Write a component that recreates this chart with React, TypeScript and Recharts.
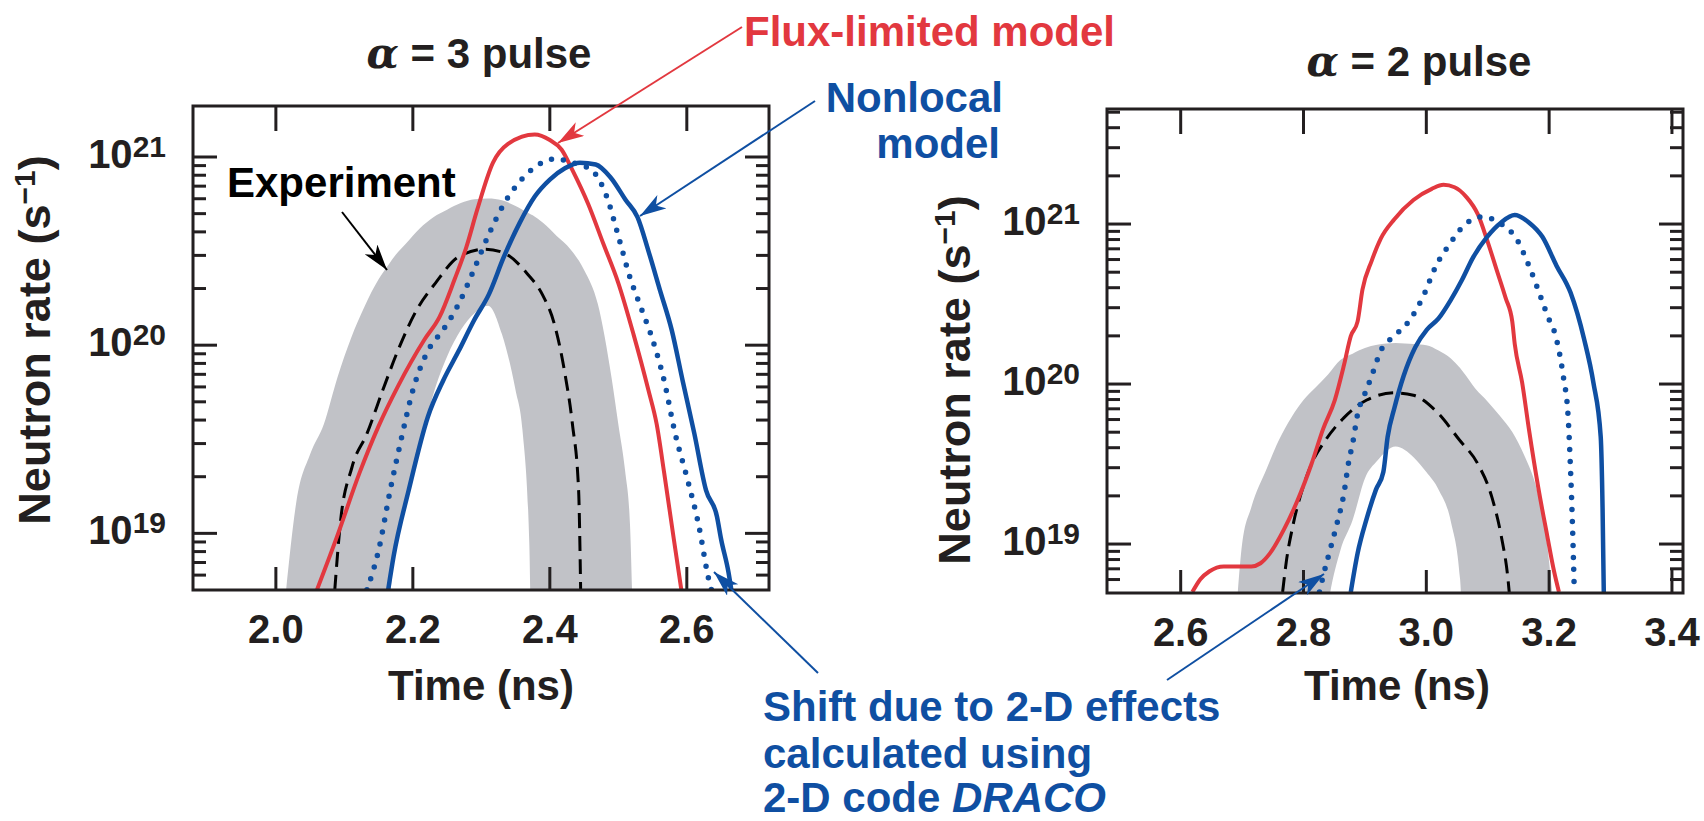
import { Area, ComposedChart, Line, XAxis, YAxis } from "recharts";

const FONT = '"Liberation Sans", Arial, Helvetica, sans-serif';
const INK = "#231f20";
const RED = "#e2383f";
const BLUE = "#0f4fa2";
const GREY = "#c1c2c7";

// values are log10 of the neutron rate (s^-1) against time (ns)

// alpha = 3 pulse
const experimentA3: [number, number][] = [
  [2.086, 18.7], [2.094, 19.05], [2.111, 19.35], [2.133, 19.53], [2.156, 19.76],
  [2.178, 19.97], [2.206, 20.19], [2.233, 20.33], [2.267, 20.47], [2.306, 20.51],
  [2.333, 20.49], [2.367, 20.38], [2.389, 20.27], [2.406, 20.12], [2.422, 19.85],
  [2.433, 19.58], [2.442, 19.23], [2.445, 18.7],
];
const fluxLimitedA3: [number, number][] = [
  [2.06, 18.7], [2.089, 18.98], [2.122, 19.32], [2.15, 19.57], [2.178, 19.78],
  [2.217, 20.03], [2.239, 20.15], [2.261, 20.35], [2.278, 20.52], [2.294, 20.72],
  [2.317, 20.97], [2.339, 21.07], [2.378, 21.12], [2.4, 21.09], [2.417, 21.04],
  [2.433, 20.93], [2.456, 20.75], [2.478, 20.54], [2.5, 20.33], [2.522, 20.06],
  [2.544, 19.76], [2.556, 19.58], [2.567, 19.32], [2.581, 18.97], [2.592, 18.7],
];
const shiftedA3: [number, number][] = [
  [2.133, 18.7], [2.15, 18.91], [2.167, 19.23], [2.183, 19.5], [2.2, 19.76],
  [2.222, 19.97], [2.244, 20.08], [2.267, 20.22], [2.289, 20.4], [2.311, 20.59],
  [2.333, 20.75], [2.361, 20.89], [2.389, 20.97], [2.408, 20.99], [2.433, 20.97],
  [2.461, 20.93], [2.483, 20.79], [2.5, 20.58], [2.517, 20.36], [2.533, 20.2],
  [2.55, 20.03], [2.567, 19.81], [2.583, 19.53], [2.6, 19.3], [2.617, 19.05],
  [2.633, 18.74], [2.636, 18.7],
];
const nonlocalA3: [number, number][] = [
  [2.164, 18.7], [2.172, 18.88], [2.194, 19.23], [2.222, 19.62], [2.244, 19.81],
  [2.267, 19.97], [2.289, 20.13], [2.311, 20.27], [2.333, 20.47], [2.356, 20.65],
  [2.378, 20.79], [2.4, 20.88], [2.422, 20.94], [2.444, 20.97], [2.467, 20.96],
  [2.489, 20.89], [2.511, 20.77], [2.528, 20.68], [2.544, 20.5], [2.561, 20.29],
  [2.578, 20.08], [2.594, 19.81], [2.611, 19.53], [2.628, 19.23], [2.644, 19.09],
  [2.65, 18.97], [2.661, 18.79], [2.665, 18.7],
];
// experimental uncertainty band: [time, lower edge, upper edge]
const bandA3: [number, number, number][] = [
  [2.015, 18.0, 18.7], [2.03, 18.0, 19.17], [2.05, 18.0, 19.42], [2.07, 18.0, 19.58],
  [2.09, 18.0, 19.83], [2.11, 18.0, 20.04], [2.13, 18.0, 20.21], [2.15, 18.0, 20.35],
  [2.165, 18.6, 20.43], [2.175, 18.95, 20.48], [2.19, 19.2, 20.54], [2.21, 19.45, 20.62],
  [2.23, 19.74, 20.68], [2.25, 19.94, 20.72], [2.27, 20.08, 20.755], [2.29, 20.17, 20.775],
  [2.31, 20.21, 20.78], [2.33, 20.06, 20.77], [2.35, 19.76, 20.74], [2.36, 19.55, 20.72],
  [2.37, 18.95, 20.7], [2.375, 18.0, 20.69], [2.39, 18.0, 20.65], [2.41, 18.0, 20.58],
  [2.43, 18.0, 20.51], [2.45, 18.0, 20.4], [2.47, 18.0, 20.22], [2.49, 18.0, 19.83],
  [2.5, 18.0, 19.58], [2.51, 18.0, 19.33], [2.517, 18.0, 19.05], [2.52, 18.0, 18.7],
];

// alpha = 2 pulse
const experimentA2: [number, number][] = [
  [2.766, 18.7], [2.772, 18.89], [2.783, 19.12], [2.798, 19.34], [2.813, 19.5],
  [2.836, 19.65], [2.866, 19.79], [2.903, 19.9], [2.948, 19.945], [2.979, 19.93],
  [3.016, 19.83], [3.054, 19.65], [3.084, 19.5], [3.107, 19.29], [3.122, 19.05],
  [3.133, 18.78], [3.135, 18.7],
];
const fluxLimitedA2: [number, number][] = [
  [2.619, 18.7], [2.632, 18.78], [2.647, 18.83], [2.67, 18.86], [2.715, 18.86],
  [2.73, 18.88], [2.745, 18.94], [2.768, 19.09], [2.79, 19.27], [2.813, 19.5],
  [2.832, 19.72], [2.851, 19.9], [2.866, 20.12], [2.877, 20.3], [2.888, 20.39],
  [2.896, 20.59], [2.911, 20.77], [2.926, 20.91], [2.948, 21.03], [2.979, 21.15],
  [3.009, 21.22], [3.028, 21.245], [3.046, 21.23], [3.065, 21.17], [3.084, 21.06],
  [3.099, 20.9], [3.114, 20.72], [3.129, 20.54], [3.14, 20.39], [3.144, 20.25],
  [3.156, 20.01], [3.167, 19.72], [3.182, 19.36], [3.197, 19.05], [3.208, 18.83],
  [3.216, 18.7],
];
const shiftedA2: [number, number][] = [
  [2.826, 18.7], [2.832, 18.8], [2.843, 18.96], [2.854, 19.12], [2.866, 19.32],
  [2.873, 19.5], [2.881, 19.65], [2.888, 19.81], [2.9, 19.94], [2.911, 20.05],
  [2.926, 20.21], [2.948, 20.3], [2.971, 20.39], [2.994, 20.54], [3.016, 20.74],
  [3.039, 20.88], [3.061, 20.99], [3.092, 21.045], [3.122, 21.0], [3.148, 20.9],
  [3.167, 20.74], [3.182, 20.59], [3.197, 20.43], [3.212, 20.28], [3.223, 20.05],
  [3.231, 19.79], [3.235, 19.45], [3.238, 19.12], [3.241, 18.7],
];
const nonlocalA2: [number, number][] = [
  [2.877, 18.7], [2.888, 18.94], [2.903, 19.16], [2.918, 19.34], [2.93, 19.45],
  [2.937, 19.67], [2.948, 19.85], [2.963, 20.05], [2.982, 20.23], [3.001, 20.34],
  [3.02, 20.41], [3.039, 20.52], [3.058, 20.65], [3.076, 20.79], [3.099, 20.92],
  [3.122, 21.01], [3.144, 21.056], [3.167, 21.01], [3.189, 20.92], [3.212, 20.74],
  [3.235, 20.57], [3.257, 20.28], [3.272, 20.01], [3.284, 19.67], [3.287, 19.23],
  [3.289, 18.7],
];
const bandA2: [number, number, number][] = [
  [2.693, 18.0, 18.7], [2.7, 18.0, 19.0], [2.715, 18.0, 19.23], [2.74, 18.0, 19.47],
  [2.76, 18.0, 19.65], [2.78, 18.0, 19.79], [2.8, 18.0, 19.9], [2.82, 18.0, 19.98],
  [2.84, 18.62, 20.06], [2.86, 18.96, 20.15], [2.88, 19.15, 20.19], [2.9, 19.41, 20.225],
  [2.92, 19.52, 20.245], [2.95, 19.61, 20.257], [2.98, 19.54, 20.25], [3.0, 19.45, 20.243],
  [3.02, 19.34, 20.21], [3.04, 19.14, 20.16], [3.055, 18.78, 20.1], [3.065, 18.0, 20.05],
  [3.08, 18.0, 19.97], [3.1, 18.0, 19.89], [3.12, 18.0, 19.8], [3.14, 18.0, 19.7],
  [3.16, 18.0, 19.55], [3.18, 18.0, 19.34], [3.195, 18.0, 19.05], [3.205, 18.0, 18.7],
];

const timeTicksA3 = [2.0, 2.2, 2.4, 2.6];
const timeTicksA2 = [2.6, 2.8, 3.0, 3.2, 3.4];
const decades = [18, 19, 20, 21];
const mantissas = [1, 2, 3, 4, 5, 6, 7, 8, 9];

const toPts = (a: [number, number][]) => a.map(([t, v]) => ({ t, v }));
const toBand = (a: [number, number, number][]) => a.map(([t, lo, hi]) => ({ t, lo, hi }));

const logTicks = (lo: number, hi: number) => {
  const out: number[] = [];
  decades.forEach((d) =>
    mantissas.forEach((m) => {
      const v = d + Math.log10(m);
      if (v > lo + 0.01 && v < hi - 0.01) out.push(v);
    })
  );
  return out;
};

const H = 821;
const Y_AXIS_W = 60;
const X_AXIS_H = 30;

type PanelProps = {
  pageLeft: number;
  width: number;
  px0: number;
  px1: number;
  py0: number;
  py1: number;
  xDomain: [number, number];
  yDomain: [number, number];
  xTicks: number[];
  band: [number, number, number][];
  experiment: [number, number][];
  flux: [number, number][];
  shifted: [number, number][];
  nonlocal: [number, number][];
};

const Panel = (p: PanelProps) => {
  const l0 = p.px0 - p.pageLeft;
  const l1 = p.px1 - p.pageLeft;
  const margin = {
    top: p.py0,
    left: l0 - Y_AXIS_W,
    right: p.width - l1,
    bottom: H - p.py1 - X_AXIS_H,
  };

  const XTick = ({ x, payload }: any) => (
    <g>
      <line x1={x} x2={x} y1={p.py1 - 23} y2={p.py1} stroke={INK} strokeWidth={3} />
      <line x1={x} x2={x} y1={p.py0} y2={p.py0 + 25} stroke={INK} strokeWidth={3} />
      <text
        x={x}
        y={p.py1 + 53}
        textAnchor="middle"
        fontSize={40}
        fontWeight="bold"
        fill={INK}
        fontFamily={FONT}
      >
        {Number(payload.value).toFixed(1)}
      </text>
    </g>
  );

  const YTick = ({ y, payload }: any) => {
    const v = Number(payload.value);
    const major = Math.abs(v - Math.round(v)) < 1e-6;
    const len = major ? 24 : 13;
    return (
      <g>
        <line x1={l0} x2={l0 + len} y1={y} y2={y} stroke={INK} strokeWidth={3} />
        <line x1={l1 - len} x2={l1} y1={y} y2={y} stroke={INK} strokeWidth={3} />
        {major && (
          <text
            x={l0 - 27}
            y={y + 11}
            textAnchor="end"
            fontSize={40}
            fontWeight="bold"
            fill={INK}
            fontFamily={FONT}
          >
            10
            <tspan dy={-11} fontSize={30}>
              {Math.round(v)}
            </tspan>
          </text>
        )}
      </g>
    );
  };

  return (
    <div style={{ position: "absolute", left: p.pageLeft, top: 0 }}>
      <ComposedChart width={p.width} height={H} margin={margin}>
        <XAxis
          type="number"
          dataKey="t"
          domain={p.xDomain}
          ticks={p.xTicks}
          allowDataOverflow
          interval={0}
          height={X_AXIS_H}
          axisLine={false}
          tickLine={false}
          tick={(props: any) => <XTick {...props} />}
        />
        <YAxis
          type="number"
          domain={p.yDomain}
          ticks={logTicks(p.yDomain[0], p.yDomain[1])}
          allowDataOverflow
          interval={0}
          width={Y_AXIS_W}
          axisLine={false}
          tickLine={false}
          tick={(props: any) => <YTick {...props} />}
        />
        <Area
          data={toBand(p.band)}
          dataKey={(d: any) => [d.lo, d.hi]}
          type="monotone"
          fill={GREY}
          fillOpacity={1}
          stroke="none"
          isAnimationActive={false}
        />
        <Line
          data={toPts(p.experiment)}
          dataKey="v"
          type="monotone"
          stroke="#000"
          strokeWidth={3}
          strokeDasharray="15 8"
          dot={false}
          isAnimationActive={false}
        />
        <Line
          data={toPts(p.flux)}
          dataKey="v"
          type="monotone"
          stroke={RED}
          strokeWidth={4}
          dot={false}
          isAnimationActive={false}
        />
        <Line
          data={toPts(p.shifted)}
          dataKey="v"
          type="monotone"
          stroke={BLUE}
          strokeWidth={5.5}
          strokeDasharray="0 12"
          strokeLinecap="round"
          dot={false}
          isAnimationActive={false}
        />
        <Line
          data={toPts(p.nonlocal)}
          dataKey="v"
          type="monotone"
          stroke={BLUE}
          strokeWidth={4.5}
          dot={false}
          isAnimationActive={false}
        />
      </ComposedChart>
    </div>
  );
};

const Arrow = ({ x1, y1, x2, y2, color, id }: any) => (
  <line x1={x1} y1={y1} x2={x2} y2={y2} stroke={color} strokeWidth={2} markerEnd={`url(#${id})`} />
);

const YLabel = ({ x, y }: { x: number; y: number }) => (
  <text transform={`translate(${x},${y}) rotate(-90)`} textAnchor="middle" fontSize={45} fill={INK}>
    Neutron rate (s
    <tspan dy={-15} fontSize={30}>−1</tspan>
    <tspan dy={15}>)</tspan>
  </text>
);

const Overlay = () => (
  <svg
    width={1704}
    height={H}
    style={{ position: "absolute", left: 0, top: 0, pointerEvents: "none" }}
    fontFamily={FONT}
    fontWeight="bold"
  >
    <defs>
      {[
        ["hk", "#000"],
        ["hr", RED],
        ["hb", BLUE],
      ].map(([id, c]) => (
        <marker
          key={id}
          id={id}
          markerUnits="userSpaceOnUse"
          markerWidth={30}
          markerHeight={20}
          refX={26}
          refY={8}
          orient="auto"
        >
          <path d="M0,0 L26,8 L0,16 L7,8 Z" fill={c} />
        </marker>
      ))}
    </defs>

    {/* plot frames */}
    <rect x={193} y={106} width={576} height={484} fill="none" stroke={INK} strokeWidth={3} />
    <rect x={1107} y={109} width={576} height={484} fill="none" stroke={INK} strokeWidth={3} />

    {/* titles */}
    <text x={479} y={68} textAnchor="middle" fontSize={42} fill={INK}>
      <tspan fontStyle="italic" fontFamily='"DejaVu Serif", serif'>α</tspan>
      {" = 3 pulse"}
    </text>
    <text x={1419} y={76} textAnchor="middle" fontSize={42} fill={INK}>
      <tspan fontStyle="italic" fontFamily='"DejaVu Serif", serif'>α</tspan>
      {" = 2 pulse"}
    </text>

    {/* axis titles */}
    <text x={481} y={700} textAnchor="middle" fontSize={42} fill={INK}>
      Time (ns)
    </text>
    <text x={1397} y={700} textAnchor="middle" fontSize={42} fill={INK}>
      Time (ns)
    </text>
    <YLabel x={50} y={340} />
    <YLabel x={970} y={380} />

    {/* annotations */}
    <text x={744} y={46} fontSize={42} fill={RED}>
      Flux-limited model
    </text>
    <Arrow x1={742} y1={27} x2={558} y2={143} color={RED} id="hr" />

    <text x={1003} y={112} textAnchor="end" fontSize={42} fill={BLUE}>
      Nonlocal
    </text>
    <text x={1000} y={158} textAnchor="end" fontSize={42} fill={BLUE}>
      model
    </text>
    <Arrow x1={815} y1={101} x2={640} y2={216} color={BLUE} id="hb" />

    <text x={227} y={197} fontSize={42} fill="#000">
      Experiment
    </text>
    <Arrow x1={342} y1={212} x2={387} y2={270} color="#000" id="hk" />

    <text x={763} y={721} fontSize={42} fill={BLUE}>
      Shift due to 2-D effects
    </text>
    <text x={763} y={768} fontSize={42} fill={BLUE}>
      calculated using
    </text>
    <text x={763} y={812} fontSize={42} fill={BLUE}>
      2-D code <tspan fontStyle="italic">DRACO</tspan>
    </text>
    <Arrow x1={818} y1={673} x2={714} y2={572} color={BLUE} id="hb" />
    <Arrow x1={1167} y1={680} x2={1324} y2={574} color={BLUE} id="hb" />
  </svg>
);

export default function App() {
  return (
    <div
      style={{
        position: "absolute",
        left: 0,
        top: 0,
        width: 1704,
        height: H,
        background: "#fff",
        fontFamily: FONT,
      }}
    >
      <Panel
        pageLeft={0}
        width={860}
        px0={193}
        px1={769}
        py0={106}
        py1={590}
        xDomain={[1.879, 2.72]}
        yDomain={[18.699, 21.271]}
        xTicks={timeTicksA3}
        band={bandA3}
        experiment={experimentA3}
        flux={fluxLimitedA3}
        shifted={shiftedA3}
        nonlocal={nonlocalA3}
      />
      <Panel
        pageLeft={860}
        width={844}
        px0={1107}
        px1={1683}
        py0={109}
        py1={593}
        xDomain={[2.48, 3.418]}
        yDomain={[18.694, 21.719]}
        xTicks={timeTicksA2}
        band={bandA2}
        experiment={experimentA2}
        flux={fluxLimitedA2}
        shifted={shiftedA2}
        nonlocal={nonlocalA2}
      />
      <Overlay />
    </div>
  );
}
